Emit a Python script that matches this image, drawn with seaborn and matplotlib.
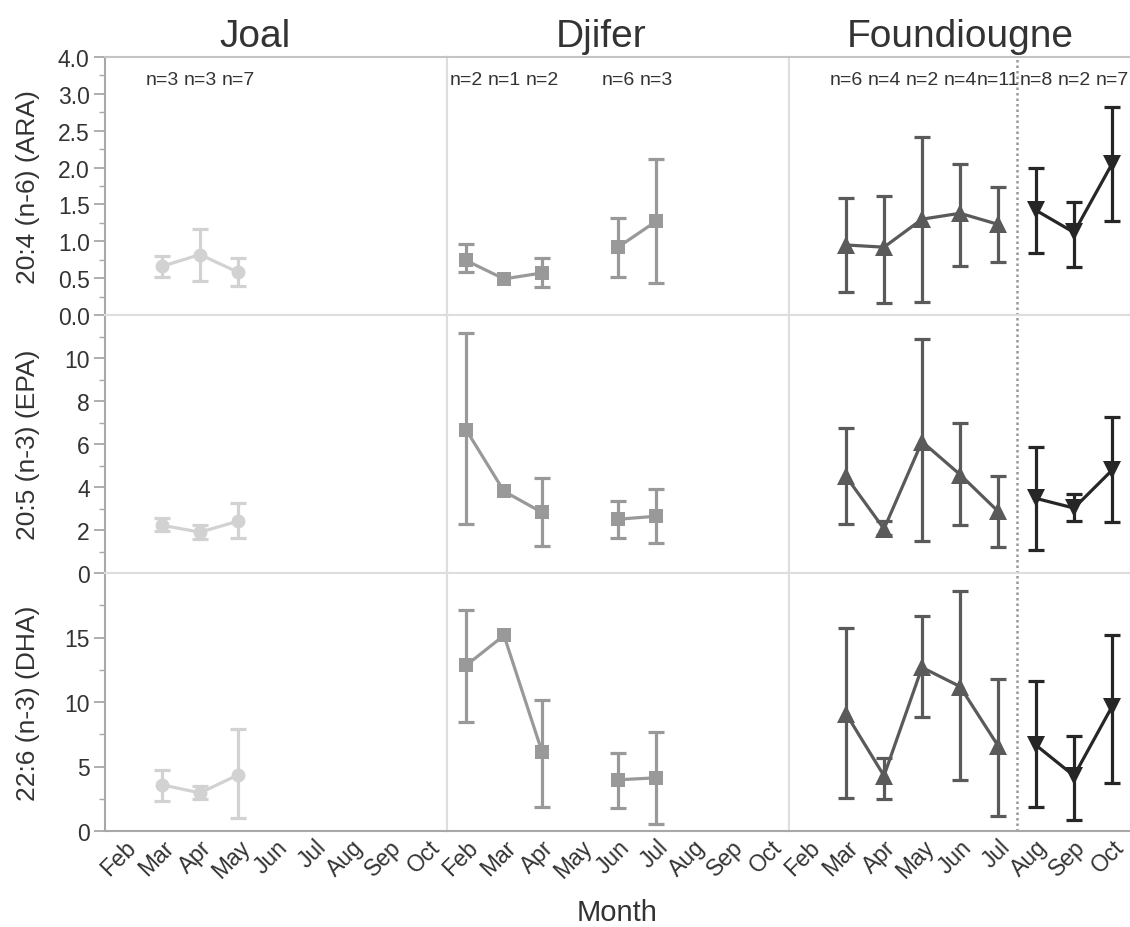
import numpy as np
import pandas as pd
import matplotlib
matplotlib.use("Agg")
import matplotlib.pyplot as plt
import matplotlib.transforms as mtransforms
from matplotlib.ticker import FixedLocator, FixedFormatter
import seaborn as sns

# ---------------------------------------------------------------- data
months = ["Feb", "Mar", "Apr", "May", "Jun", "Jul", "Aug", "Sep", "Oct"]
sites = ["Joal", "Djifer", "Foundiougne"]
acids = ["20:4 (n-6) (ARA)", "20:5 (n-3) (EPA)", "22:6 (n-3) (DHA)"]

# Joal
joal_months = ["Mar", "Apr", "May"]
joal_n = [3, 3, 7]
joal_ara = [0.66, 0.82, 0.58]
joal_ara_lo = [0.51, 0.46, 0.39]
joal_ara_hi = [0.80, 1.16, 0.77]
joal_epa = [2.22, 1.90, 2.41]
joal_epa_lo = [1.94, 1.57, 1.62]
joal_epa_hi = [2.55, 2.22, 3.24]
joal_dha = [3.58, 2.95, 4.35]
joal_dha_lo = [2.33, 2.49, 1.01]
joal_dha_hi = [4.74, 3.50, 7.93]

# Djifer (no sampling in May; single fish in March)
djifer_months = ["Feb", "Mar", "Apr", "Jun", "Jul"]
djifer_n = [2, 1, 2, 6, 3]
djifer_ara = [0.74, 0.49, 0.57, 0.92, 1.27]
djifer_ara_lo = [0.58, np.nan, 0.38, 0.51, 0.43]
djifer_ara_hi = [0.96, np.nan, 0.78, 1.31, 2.12]
djifer_epa = [6.67, 3.80, 2.82, 2.50, 2.64]
djifer_epa_lo = [2.27, np.nan, 1.25, 1.62, 1.39]
djifer_epa_hi = [11.16, np.nan, 4.40, 3.33, 3.89]
djifer_dha = [12.83, 15.16, 6.14, 3.97, 4.12]
djifer_dha_lo = [8.48, np.nan, 1.87, 1.79, 0.54]
djifer_dha_hi = [17.10, np.nan, 10.19, 6.07, 7.70]

# Foundiougne, March to July
found1_months = ["Mar", "Apr", "May", "Jun", "Jul"]
found1_n = [6, 4, 2, 4, 11]
found1_ara = [0.95, 0.92, 1.30, 1.38, 1.23]
found1_ara_lo = [0.31, 0.16, 0.17, 0.66, 0.72]
found1_ara_hi = [1.59, 1.61, 2.42, 2.05, 1.73]
found1_epa = [4.49, 2.05, 6.11, 4.58, 2.87]
found1_epa_lo = [2.27, 1.75, 1.48, 2.22, 1.20]
found1_epa_hi = [6.76, 2.41, 10.90, 6.99, 4.49]
found1_dha = [9.10, 4.28, 12.68, 11.20, 6.61]
found1_dha_lo = [2.57, 2.49, 8.87, 3.97, 1.17]
found1_dha_hi = [15.70, 5.68, 16.64, 18.60, 11.82]

# Foundiougne, August to October
found2_months = ["Aug", "Sep", "Oct"]
found2_n = [8, 2, 7]
found2_ara = [1.42, 1.12, 2.05]
found2_ara_lo = [0.84, 0.65, 1.28]
found2_ara_hi = [2.00, 1.53, 2.82]
found2_epa = [3.47, 3.02, 4.78]
found2_epa_lo = [1.06, 2.41, 2.36]
found2_epa_hi = [5.88, 3.66, 7.27]
found2_dha = [6.65, 4.28, 9.64]
found2_dha_lo = [1.87, 0.86, 3.73]
found2_dha_hi = [11.59, 7.39, 15.16]

# ---------------------------------------------------------------- tidy table
groups = [
    dict(site="Joal", months=joal_months, n=joal_n, color="#d2d2d2", marker="o", ms=10,
         vals=[(joal_ara, joal_ara_lo, joal_ara_hi), (joal_epa, joal_epa_lo, joal_epa_hi),
               (joal_dha, joal_dha_lo, joal_dha_hi)]),
    dict(site="Djifer", months=djifer_months, n=djifer_n, color="#999999", marker="s", ms=10,
         vals=[(djifer_ara, djifer_ara_lo, djifer_ara_hi), (djifer_epa, djifer_epa_lo, djifer_epa_hi),
               (djifer_dha, djifer_dha_lo, djifer_dha_hi)]),
    dict(site="Foundiougne", months=found1_months, n=found1_n, color="#5a5a5a", marker="^", ms=12.5,
         vals=[(found1_ara, found1_ara_lo, found1_ara_hi), (found1_epa, found1_epa_lo, found1_epa_hi),
               (found1_dha, found1_dha_lo, found1_dha_hi)]),
    dict(site="Foundiougne", months=found2_months, n=found2_n, color="#262626", marker="v", ms=12.5,
         vals=[(found2_ara, found2_ara_lo, found2_ara_hi), (found2_epa, found2_epa_lo, found2_epa_hi),
               (found2_dha, found2_dha_lo, found2_dha_hi)]),
]

rows = []
for gi, g in enumerate(groups):
    pos = [months.index(m) for m in g["months"]]
    # consecutive months belong to the same connected segment
    seg = np.cumsum([0] + [int(b - a > 1) for a, b in zip(pos[:-1], pos[1:])])
    for ai, acid in enumerate(acids):
        mean, lo, hi = g["vals"][ai]
        for k in range(len(pos)):
            rows.append(dict(group=gi, site=g["site"], acid=acid, month=g["months"][k],
                             pos=pos[k], seg=int(seg[k]), mean=mean[k], lo=lo[k], hi=hi[k]))
df = pd.DataFrame(rows)

# ---------------------------------------------------------------- style
sns.set_theme(style="white")
plt.rcParams["font.family"] = ["Liberation Sans", "DejaVu Sans"]
text_c = "#333333"
axis_c = "#a8a8a8"
frame_c = "#dedede"

W, H = 1130, 928
fig, axes = plt.subplots(3, 3, figsize=(W / 100, H / 100), dpi=100, sharex=True, sharey="row")
fig.subplots_adjust(left=105 / W, right=1131 / W, top=1 - 58 / H, bottom=1 - 832 / H,
                    wspace=0, hspace=0)

ylims = [(0, 3.5), (0, 12), (0, 20)]
majors = [np.arange(0, 3.51, 0.5), np.arange(0, 10.1, 2), np.arange(0, 15.1, 5)]
minors = [np.arange(0.25, 3.5, 0.5), np.arange(1, 12, 2), np.arange(2.5, 20, 5)]
major_labels = [["0.0", "0.5", "1.0", "1.5", "2.0", "2.5", "3.0", "4.0"],
                ["0", "2", "4", "6", "8", "10"],
                ["0", "5", "10", "15"]]
title_x = [0.439, 0.452, 0.50]

for r, acid in enumerate(acids):
    for c, site in enumerate(sites):
        ax = axes[r, c]
        for gi, g in enumerate(groups):
            if g["site"] != site:
                continue
            d = df[(df.group == gi) & (df.acid == acid)]
            ax.errorbar(d["pos"], d["mean"], yerr=[d["mean"] - d["lo"], d["hi"] - d["mean"]],
                        fmt="none", ecolor=g["color"], elinewidth=2.3, capsize=5.5,
                        capthick=2.3, zorder=2)
            sns.lineplot(data=d, x="pos", y="mean", units="seg", estimator=None,
                         color=g["color"], marker=g["marker"], markersize=g["ms"],
                         markeredgewidth=0, linewidth=2.3, ax=ax, legend=False, zorder=3)
            if r == 0:
                trans = mtransforms.blended_transform_factory(ax.transData, ax.transAxes)
                for p, n in zip(d["pos"], g["n"]):
                    ax.text(p, 0.912, f"n={n}", transform=trans, ha="center", va="center",
                            fontsize=14, color=text_c)
        if site == "Foundiougne":
            ax.axvline(5.5, color="#999999", linestyle=(0, (1, 1.2)), linewidth=1.8, zorder=1)

        ax.set_xlim(-0.5, 8.5)
        ax.set_ylim(*ylims[r])
        ax.set_xlabel("")
        ax.set_ylabel("")
        for s in ax.spines.values():
            s.set_color(frame_c)
            s.set_linewidth(1.5)
        if r == 0:
            ax.spines["top"].set_color("#c4c4c4")
            ax.set_title(site, fontsize=28, color=text_c, x=title_x[c], pad=8)
        if r == 2:
            ax.spines["bottom"].set_color(axis_c)
        ax.set_xticks(range(len(months)))
        ax.set_xticklabels(months)
        ax.tick_params(axis="x", length=0, pad=3, labelsize=16.5, labelcolor=text_c)
        for lab in ax.get_xticklabels():
            lab.set_rotation(45)
            lab.set_ha("right")
            lab.set_rotation_mode("anchor")
        if c == 0:
            ax.spines["left"].set_color(axis_c)
            ax.yaxis.set_major_locator(FixedLocator(majors[r]))
            ax.yaxis.set_major_formatter(FixedFormatter(major_labels[r]))
            ax.yaxis.set_minor_locator(FixedLocator(minors[r]))
            ax.tick_params(axis="y", which="major", direction="out", length=8, width=1.3,
                           color=axis_c, labelsize=16.5, labelcolor=text_c, pad=3, left=True)
            ax.tick_params(axis="y", which="minor", direction="out", length=4, width=1.0,
                           color=axis_c, left=True)
            ax.set_ylabel(acid, fontsize=19, color=text_c, labelpad=13)
        else:
            ax.tick_params(axis="y", which="both", left=False, labelleft=False)

fig.text(617 / W, 1 - 913 / H, "Month", ha="center", va="center", fontsize=21, color=text_c)
fig.align_ylabels(axes[:, 0])
fig.savefig("out.png", dpi=100, facecolor="white")
